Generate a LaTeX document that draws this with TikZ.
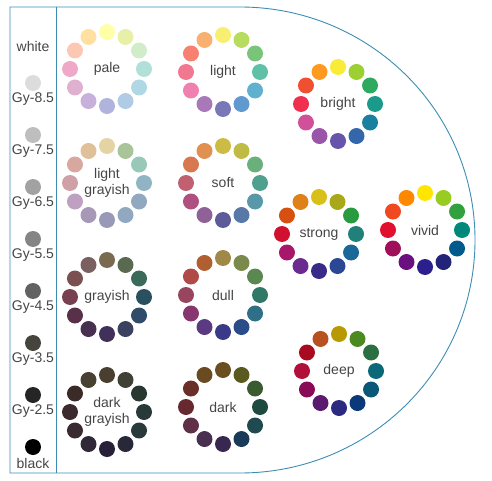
\documentclass[tikz,border=0pt]{standalone}
\usepackage{fontspec}
\setmainfont{Liberation Sans}
\definecolor{framec}{HTML}{3C8DB4}
\definecolor{txt}{HTML}{454545}
\tikzset{
  dot/.style={circle, inner sep=0pt, minimum size=16pt, draw=none},
  lbl/.style={font=\fontsize{14}{16}\selectfont, text=txt, inner sep=0pt, align=center},
  frameline/.style={draw=framec, line width=0.9pt},
}
\newcommand\tonewheel[5]{%
  \node[lbl] (#1) at (#2,#3) {#4};
  \foreach \c [count=\i from 0] in {#5} {
    \edef\tmp{\noexpand\definecolor{tmpc}{HTML}{\c}}\tmp
    \node[dot, fill=tmpc] (#1-\i) at ({#2+37*sin(30*\i)},{#3-37*cos(30*\i)}) {};
  }
}
\begin{document}
\begin{tikzpicture}[x=1pt,y=-1pt]
\useasboundingbox (0,0) rectangle (492,481);
% frame
\coordinate (tl) at (10,7);
\coordinate (bl) at (10,473);
\coordinate (tm) at (240,7);
\coordinate (bm) at (240,473);
\coordinate (st) at (56,7);
\coordinate (sb) at (56,473);
\draw[frameline] (tm) -- (tl) -- (bl) -- (bm) arc[start angle=-90, end angle=90, x radius=235pt, y radius=233pt];
\draw[frameline] (st) -- (sb);
% gray column
\node[lbl] (white) at (33,46) {white};
\foreach \n/\yy/\c/\t in {g85/83/DCDCDC/Gy-8.5, g75/135/BEBEBE/Gy-7.5, g65/187/A2A2A2/Gy-6.5, g55/239/858585/Gy-5.5, g45/291/626262/Gy-4.5, g35/343/45453E/Gy-3.5, g25/395/252525/Gy-2.5, bk/447/000000/black} {
  \edef\tmp{\noexpand\definecolor{tmpc}{HTML}{\c}}\tmp
  \node[dot, fill=tmpc] (\n-dot) at (33,\yy) {};
  \node[lbl] (\n-lbl) at (33,\yy+16) {\t};
}
% wheels
\tonewheel{pale}{107}{69}{pale}{FFFFA8,E8F0A8,D0ECC8,B0E0D8,B0D8E4,B0CCE4,B0B4DC,C8B0DC,E0B0D0,F0A8C8,FCC8B4,FFE0A0}
\tonewheel{ltg}{107}{183}{light\\grayish}{E4D4A4,A8C498,98C8B8,90B4C4,90A8C0,90A8C0,9898B8,A898B8,C0A0C0,D0A0A8,D8A8A0,E0C098}
\tonewheel{gry}{107}{297}{grayish}{7A6A50,5A6A50,3A6A5A,2A5060,304C68,3A4260,40305A,483050,583048,784050,7A5050,7A6060}
\tonewheel{dkg}{107}{412}{dark\\grayish}{4A3E30,404034,283830,283A38,283A3C,282838,282038,302838,3A2A32,3C2A2E,3A2A28,484030}
\tonewheel{light}{223}{72}{light}{F8EE70,B8DC60,78C478,60C0A8,60B0D0,6098D0,7878B8,A878B8,F080B0,F07890,F88070,F8B070}
\tonewheel{soft}{223}{183}{soft}{CCBB44,C0BB44,6AB07A,50A090,5898A8,5878A8,5C5C98,906098,B05080,C06070,D87850,E09050}
\tonewheel{dull}{223}{295}{dull}{A08848,7A8A4C,5A8850,307868,306F88,2A4C88,3A3A88,5A3A80,883670,984660,B04A48,B06030}
\tonewheel{dark}{223}{407}{dark}{6A5020,5A5A20,3A5A30,1E4A40,1E4A50,1A3A5A,382850,4A3050,603048,682830,6A3028,6A4A20}
\tonewheel{bright}{338}{104}{bright}{F8EC38,9CD030,2EAA5E,1A9A8A,1A80A0,3366AA,6655A8,9955A8,D0509A,F03050,F05032,FF9A20}
\tonewheel{strong}{319}{234}{strong}{D8C018,A8A818,2A9A40,20807A,1A6898,2A4894,3A2A8A,6A2A90,A8186A,D0102E,D85010,E08018}
\tonewheel{vivid}{425}{230}{vivid}{FFE600,99CC22,33A040,00897A,005A8C,23237A,2A1F8C,6A1080,A0105A,E0102E,F04820,FF8800}
\tonewheel{deep}{339}{371}{deep}{B89A00,4A8A20,2A7040,0A6878,0A5878,0A3878,2A2A80,5A1A70,8A0A58,B0103A,A80A20,B85020}
\end{tikzpicture}
\end{document}
